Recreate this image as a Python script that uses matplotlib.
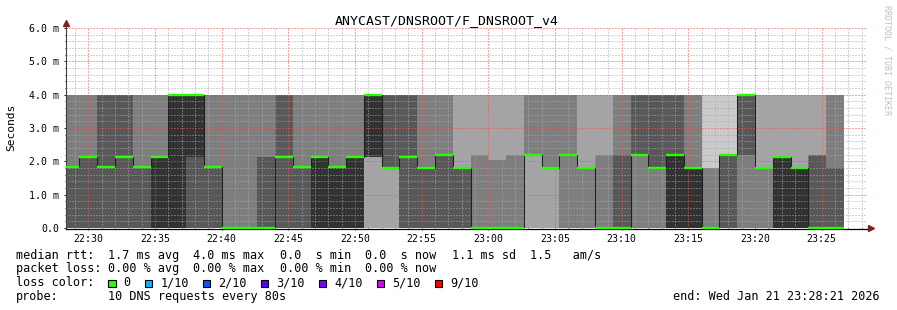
#!/usr/bin/env python3

import matplotlib
matplotlib.use('Agg')
import matplotlib.pyplot as plt
import matplotlib.dates as mdates
from matplotlib.patches import Rectangle
from matplotlib.ticker import MultipleLocator, FuncFormatter
from datetime import datetime, timedelta

W, H = 897, 310
MONO = 'DejaVu Sans Mono'

title = 'ANYCAST/DNSROOT/F_DNSROOT_v4'
first_step = datetime(2026, 1, 21, 22, 28, 0)
view_start = datetime(2026, 1, 21, 22, 28, 21)
view_end = datetime(2026, 1, 21, 23, 28, 21)
step_seconds = 80

# median rtt per 80s step (ms)
median = [1.84, 2.14, 1.84, 2.14, 1.84, 2.14, 4.0, 4.0, 1.84, 0.0,
          0.0, 0.0, 2.14, 1.84, 2.14, 1.84, 2.14, 4.0, 1.79, 2.14,
          1.79, 2.19, 1.79, 0.0, 0.0, 0.0, 2.19, 1.79, 2.19, 1.79,
          0.0, 0.0, 2.19, 1.79, 2.19, 1.79, 0.0, 2.19, 4.0, 1.79,
          2.14, 1.79, 0.0, 0.0]

# where the smoke changes shade (ms)
smoke_split = [1.84, 2.14, 1.84, 2.14, 1.84, 2.14, 2.14, 2.14, 1.84, 2.14,
               2.14, 2.14, 2.14, 1.84, 2.14, 1.84, 2.14, 2.14, 1.79, 2.14,
               1.79, 2.19, 1.79, 2.19, 2.04, 2.19, 2.19, 1.79, 2.19, 1.79,
               2.19, 2.19, 2.19, 1.79, 2.19, 1.79, 1.79, 2.19, 2.19, 1.79,
               2.14, 1.79, 2.19, 1.79]
smoke_top = 4.0

# smoke grey index for the lower / upper part of each step
greys = ['#323232', '#585858', '#7e7e7e', '#a4a4a4', '#cacaca']
lower_shade = [1, 1, 1, 1, 1, 0, 0, 1, 1, 2,
               2, 1, 1, 1, 0, 0, 0, 3, 3, 1,
               1, 1, 1, 2, 2, 2, 3, 3, 2, 2,
               2, 1, 2, 2, 0, 0, 2, 1, 2, 2,
               0, 0, 1, 1]
upper_shade = [2, 2, 1, 1, 2, 2, 0, 0, 2, 2,
               2, 2, 1, 2, 2, 2, 2, 0, 1, 1,
               2, 2, 3, 3, 3, 3, 2, 2, 2, 3,
               3, 2, 1, 1, 1, 2, 4, 4, 1, 3,
               3, 3, 3, 2]

stats_rtt = ['median rtt:', '1.7 ms avg', '4.0 ms max', '0.0  s min',
             '0.0  s now', '1.1 ms sd', '1.5   am/s']
stats_loss = ['packet loss:', '0.00 % avg', '0.00 % max', '0.00 % min',
              '0.00 % now']
loss_labels = ['0', '1/10', '2/10', '3/10', '4/10', '5/10', '9/10']
loss_colors = ['#26ff00', '#00b8ff', '#0059ff', '#5e00ff', '#7e00ff',
               '#dd00ff', '#ff0000']
probe_text = '10 DNS requests every 80s'
end_text = 'end: Wed Jan 21 23:28:21 2026'
watermark = 'RRDTOOL / TOBI OETIKER'


def ftext(fig, x, y, s, **kw):
    """place text using pixel coords from the top-left"""
    kw.setdefault('family', MONO)
    return fig.text(x / W, 1 - y / H, s, **kw)


def main():
    fig = plt.figure(figsize=(W / 100, H / 100), dpi=100)
    fig.patch.set_facecolor('white')
    ax = fig.add_axes([66.3 / W, 82 / H, 800 / W, 200 / H])

    n = len(median)
    step = timedelta(seconds=step_seconds)
    edges = [mdates.date2num(first_step + i * step) for i in range(n + 1)]
    width = edges[1] - edges[0]
    lefts = edges[:-1]

    ax.bar(lefts, smoke_split, width=width, align='edge', linewidth=0,
           color=[greys[i] for i in lower_shade], antialiased=False, zorder=1)
    ax.bar(lefts, [smoke_top - s for s in smoke_split], bottom=smoke_split,
           width=width, align='edge', linewidth=0,
           color=[greys[i] for i in upper_shade], antialiased=False, zorder=1)

    ax.set_xlim(mdates.date2num(view_start), mdates.date2num(view_end))
    ax.set_ylim(0, 6.0)

    # median: dark step line, loss coloured bars on top
    ax.stairs(median, edges, baseline=None, color='#202020', lw=0.75, zorder=3)
    x0 = mdates.date2num(view_start)
    segs_l = [max(e, x0) for e in edges[:-1]]
    ax.hlines(median, segs_l, edges[1:], color=loss_colors[0], lw=1.7,
              zorder=4, clip_on=False)

    ax.xaxis.set_major_locator(mdates.MinuteLocator(byminute=range(0, 60, 5)))
    ax.xaxis.set_minor_locator(mdates.MinuteLocator())
    ax.xaxis.set_major_formatter(mdates.DateFormatter('%H:%M'))
    ax.yaxis.set_major_locator(MultipleLocator(1.0))
    ax.yaxis.set_minor_locator(MultipleLocator(0.2))
    ax.yaxis.set_major_formatter(
        FuncFormatter(lambda v, p: '0.0' if v == 0 else '%.1f m' % v))

    ax.set_axisbelow(False)
    ax.grid(True, which='minor', color=(0.66, 0.66, 0.66, 0.45), lw=0.72,
            linestyle=(0, (1, 2)), zorder=2)
    ax.grid(True, which='major', color=(0.95, 0.3, 0.3, 0.5), lw=0.72,
            linestyle=(0, (1, 2)), zorder=2)

    for side in ['top', 'right', 'left', 'bottom']:
        ax.spines[side].set_visible(False)
    ax.tick_params(which='both', direction='out', color='#1f1f1f', width=0.7)
    ax.tick_params(which='major', length=1.6, labelsize=7.1)
    ax.tick_params(which='minor', length=1.0)
    ax.tick_params(axis='x', pad=3.0)
    ax.tick_params(axis='y', pad=3.4)
    for lab in ax.get_xticklabels() + ax.get_yticklabels():
        lab.set_family(MONO)

    # axes with arrows like rrdtool
    ax.plot([0, 0], [0, 1.02], transform=ax.transAxes, color='#404040',
            lw=0.8, clip_on=False, zorder=3)
    ax.plot([0, 1.004], [-0.003, -0.003], transform=ax.transAxes,
            color='#000000', lw=0.9, clip_on=False, zorder=3)
    ax.plot([0], [1.025], marker='^', ms=4.2, color='#7f1f1f',
            transform=ax.transAxes, clip_on=False, zorder=6)
    ax.plot([1.0055], [0], marker='>', ms=4.2, color='#7f1f1f',
            transform=ax.transAxes, clip_on=False, zorder=6)

    ftext(fig, 447, 24, title, ha='center', va='baseline', fontsize=9.5)
    ftext(fig, 11, 127, 'Seconds', ha='center', va='center', rotation=90,
          fontsize=8.1)
    ftext(fig, 887, 5, watermark, ha='center', va='top', rotation=270,
          fontsize=6.0, color='#c0c0c0')

    fs = 8.46
    cols = [16, 107.7, 192.7, 280, 365, 451.7, 530]
    for x, s in zip(cols, stats_rtt):
        ftext(fig, x, 258.7, s, va='baseline', fontsize=fs)
    for x, s in zip(cols, stats_loss):
        ftext(fig, x, 272.3, s, va='baseline', fontsize=fs)

    ftext(fig, 16, 286, 'loss color:', va='baseline', fontsize=fs)
    cw = 7.07
    x = 108.3
    for lab, col in zip(loss_labels, loss_colors):
        fig.add_artist(Rectangle((x / W, 1 - 286.8 / H), 7.3 / W, 7.3 / H,
                                 transform=fig.transFigure, facecolor=col,
                                 edgecolor='black', lw=0.8))
        ftext(fig, x + 15.2, 286, lab, va='baseline', fontsize=fs)
        x = x + 15.2 + len(lab) * cw + 14.5

    ftext(fig, 16, 300, 'probe:', va='baseline', fontsize=fs)
    ftext(fig, 107.7, 300, probe_text, va='baseline', fontsize=fs)
    ftext(fig, 879.3, 300.5, end_text, ha='right', va='baseline', fontsize=fs)

    fig.savefig('out.png', dpi=100, facecolor='white')


if __name__ == '__main__':
    main()
